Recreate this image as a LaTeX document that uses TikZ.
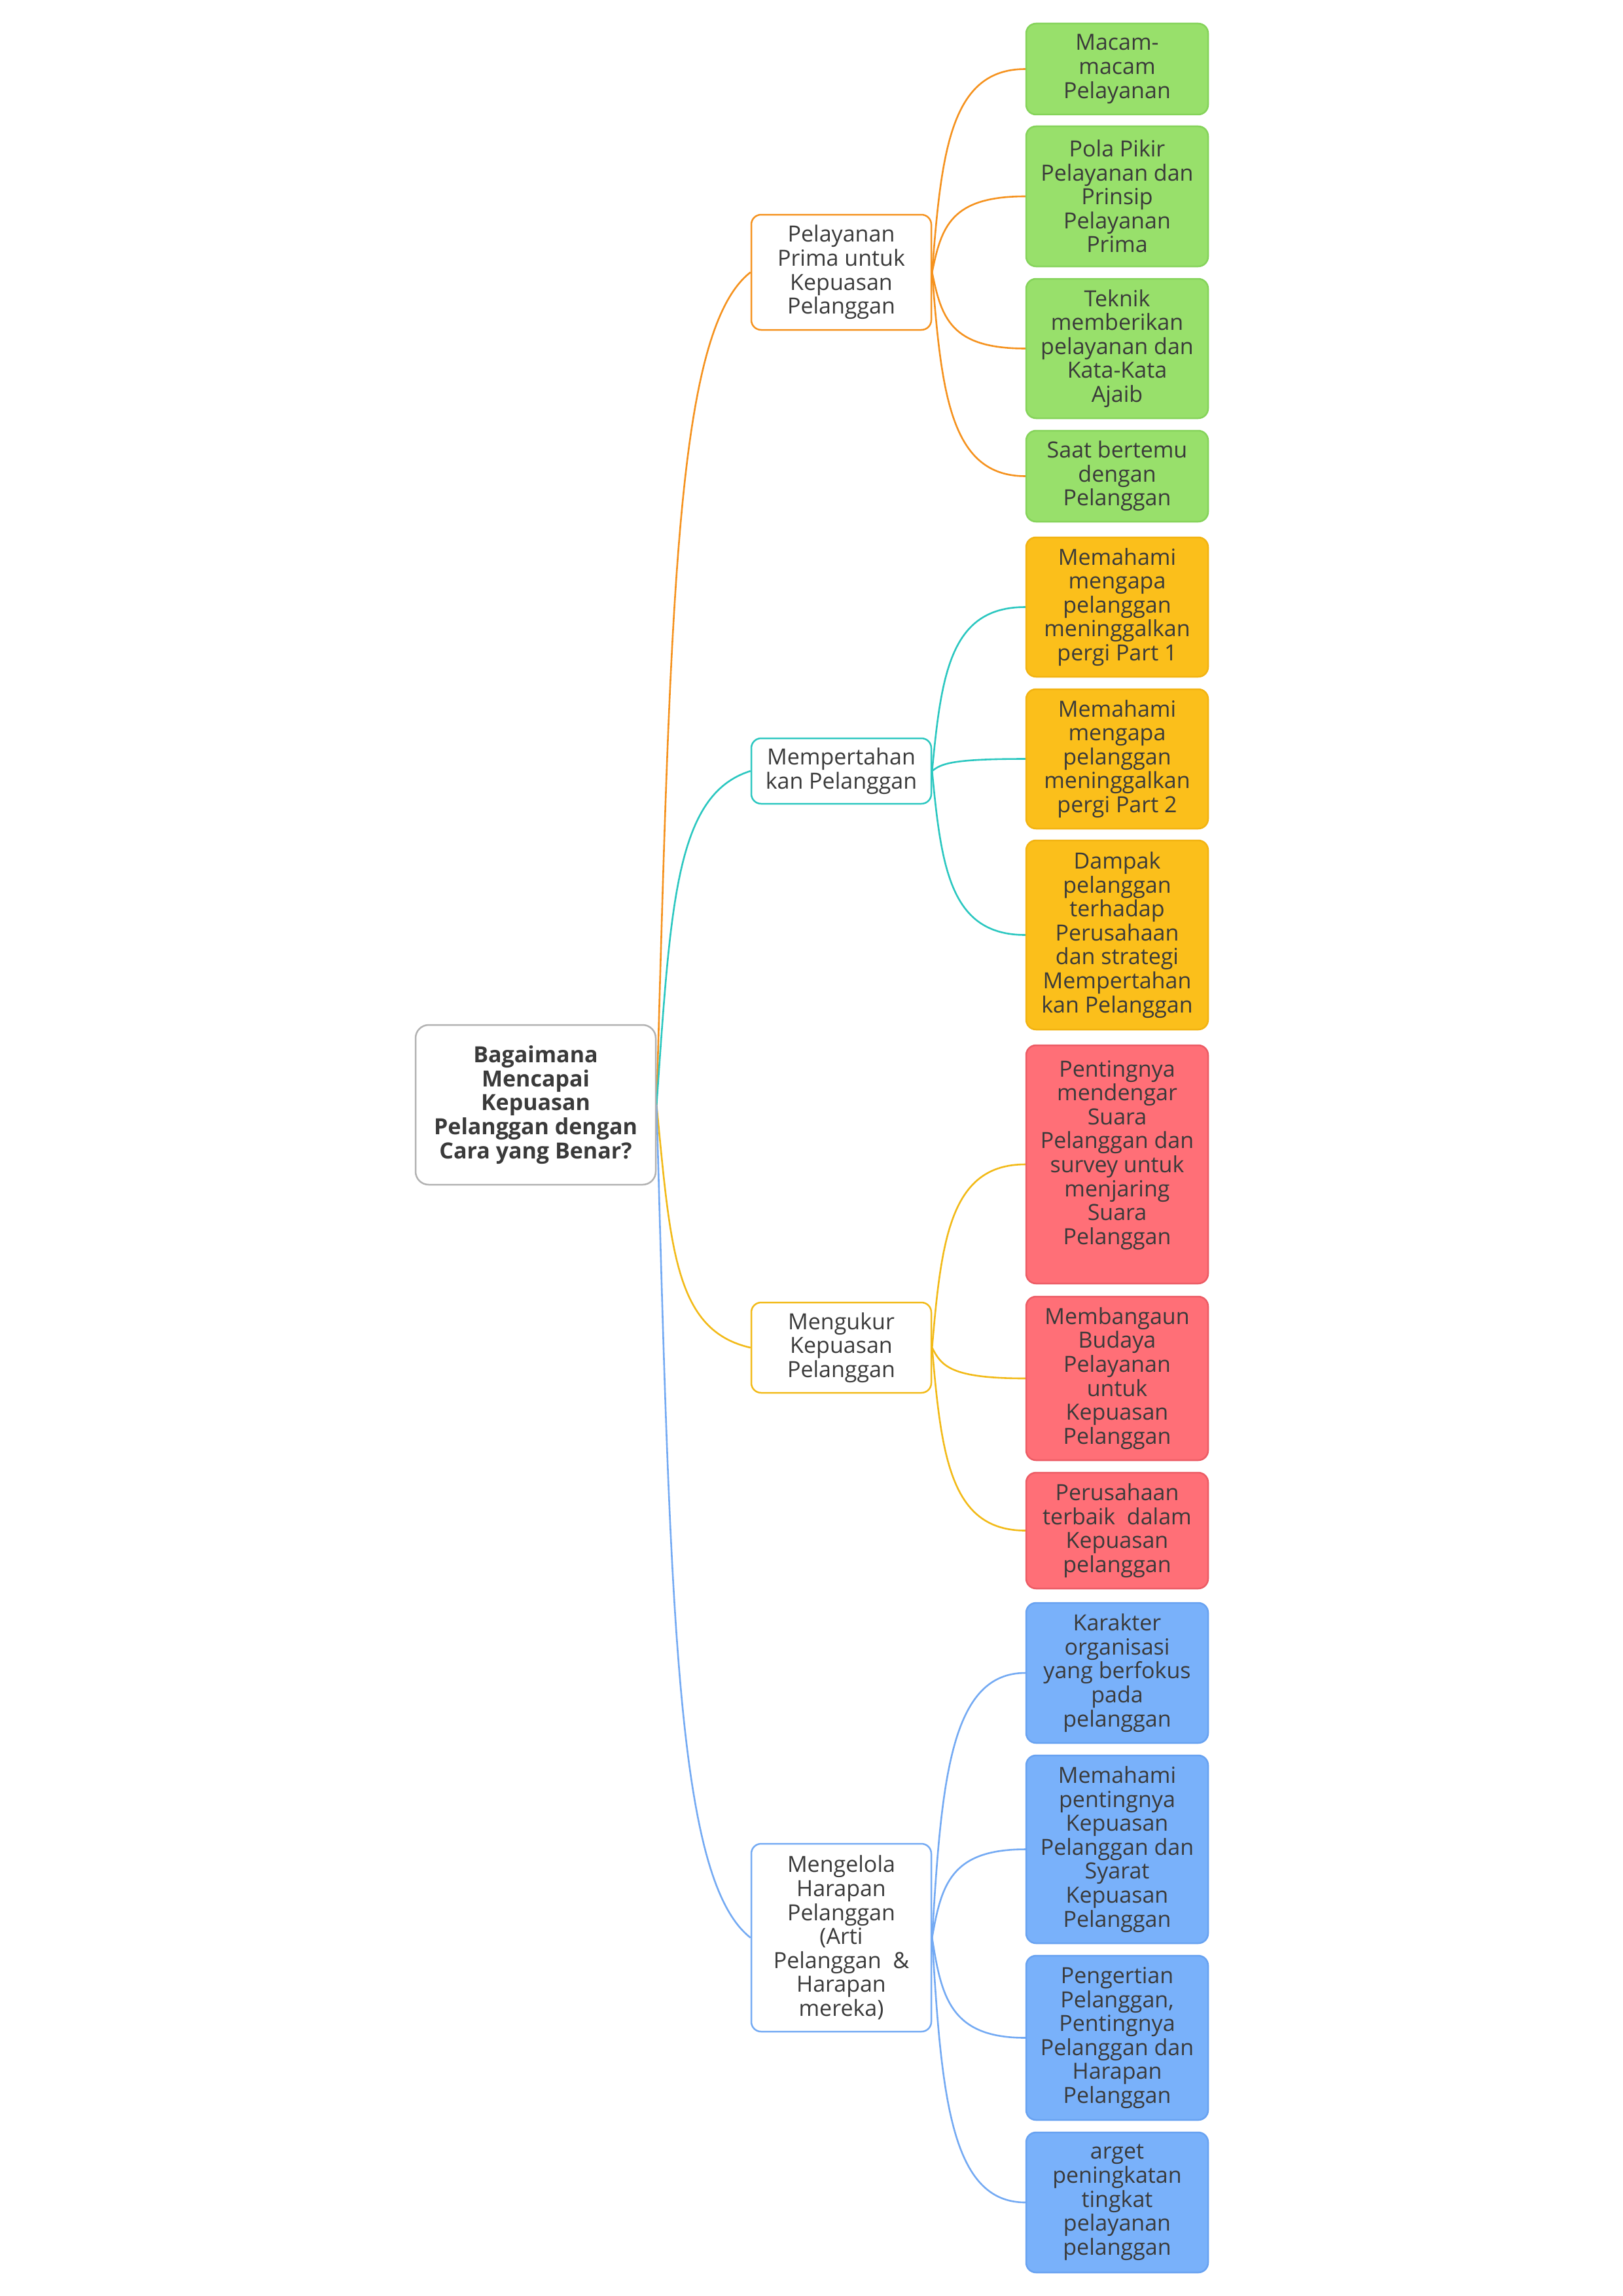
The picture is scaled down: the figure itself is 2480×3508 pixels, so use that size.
\documentclass[tikz,border=0pt]{standalone}
\usepackage{fontspec}
\setmainfont{Open Sans}
\usetikzlibrary{calc,backgrounds}
\definecolor{txt}{HTML}{3A3A3A}
\definecolor{rootgray}{HTML}{B2B2B2}
\definecolor{corange}{HTML}{F5921E}
\definecolor{cteal}{HTML}{2BC7C0}
\definecolor{cyellow}{HTML}{F2BA18}
\definecolor{cblue}{HTML}{74AAF3}
\definecolor{gfill}{HTML}{98E06B}
\definecolor{gdraw}{HTML}{85D35A}
\definecolor{afill}{HTML}{FBBF1B}
\definecolor{adraw}{HTML}{F2B312}
\definecolor{rfill}{HTML}{FF6F77}
\definecolor{rdraw}{HTML}{EC5C65}
\definecolor{bfill}{HTML}{79B1FA}
\definecolor{bdraw}{HTML}{68A2F1}
\tikzset{
  box/.style={rectangle, rounded corners=15pt, align=center, inner sep=0pt,
    text=txt, font=\fontsize{34}{36.6}\selectfont, line width=2.5pt},
  leaf/.style={box, minimum width=278pt},
  topic/.style={box, fill=white, minimum width=275pt},
  green leaf/.style={leaf, fill=gfill, draw=gdraw},
  amber leaf/.style={leaf, fill=afill, draw=adraw},
  red leaf/.style={leaf, fill=rfill, draw=rdraw},
  blue leaf/.style={leaf, fill=bfill, draw=bdraw},
  rootbox/.style={box, draw=rootgray, fill=white, rounded corners=20pt,
    minimum width=367pt, minimum height=244pt,
    font=\fontsize{34}{36.6}\selectfont\bfseries},
  link/.style={line width=2.6pt},
  rootlink/.style={link, to path={let \p1=(\tikztostart), \p2=(\tikztotarget) in
    .. controls ({\x1+0.15*(\x2-\x1)},{\y1+0.6*(\y2-\y1)})
    and ({\x1+0.2*(\x2-\x1)},{\y1+0.93*(\y2-\y1)}) .. (\tikztotarget)}},
  leaflink/.style={link, to path={let \p1=(\tikztostart), \p2=(\tikztotarget) in
    .. controls ({\x1+0.1*(\x2-\x1)},{\y1+0.6*(\y2-\y1)})
    and ({\x1+0.2*(\x2-\x1)},{\y2}) .. (\tikztotarget)}},
}
\begin{document}
\begin{tikzpicture}[x=1pt,y=-1pt]
\useasboundingbox (0,0) rectangle (2480,3508);

% root
\node[rootbox] (root) at (818.5,1688) {Bagaimana\\Mencapai\\Kepuasan\\Pelanggan dengan\\Cara yang Benar?};

% topics
\node[topic, draw=corange, minimum height=176pt] (ta) at (1285.5,416) {Pelayanan\\Prima untuk\\Kepuasan\\Pelanggan};
\node[topic, draw=cteal, minimum height=100pt] (tb) at (1285.5,1178) {Mempertahan\\kan Pelanggan};
\node[topic, draw=cyellow, minimum height=138pt] (tc) at (1285.5,2059) {Mengukur\\Kepuasan\\Pelanggan};
\node[topic, draw=cblue, minimum height=287pt] (td) at (1285.5,2960.5) {Mengelola\\Harapan\\Pelanggan\\(Arti\\Pelanggan\ \ \&\\Harapan\\mereka)};

% leaves
\node[green leaf, minimum height=139pt] (a1) at (1707,105.5) {Macam-\\macam\\Pelayanan};
\node[green leaf, minimum height=214pt] (a2) at (1707,300) {Pola Pikir\\Pelayanan dan\\Prinsip\\Pelayanan\\Prima};
\node[green leaf, minimum height=213pt] (a3) at (1707,532.5) {Teknik\\memberikan\\pelayanan dan\\Kata-Kata\\Ajaib};
\node[green leaf, minimum height=139pt] (a4) at (1707,727.5) {Saat bertemu\\dengan\\Pelanggan};

\node[amber leaf, minimum height=213pt] (b1) at (1707,927.5) {Memahami\\mengapa\\pelanggan\\meninggalkan\\pergi Part 1};
\node[amber leaf, minimum height=213pt] (b2) at (1707,1159.5) {Memahami\\mengapa\\pelanggan\\meninggalkan\\pergi Part 2};
\node[amber leaf, minimum height=289pt] (b3) at (1707,1428.5) {Dampak\\pelanggan\\terhadap\\Perusahaan\\dan strategi\\Mempertahan\\kan Pelanggan};

\node[red leaf, minimum height=364pt] (c1) at (1707,1779) {Pentingnya\\mendengar\\Suara\\Pelanggan dan\\survey untuk\\menjaring\\Suara\\Pelanggan\\\mbox{}};
\node[red leaf, minimum height=250pt] (c2) at (1707,2106) {Membangaun\\Budaya\\Pelayanan\\untuk\\Kepuasan\\Pelanggan};
\node[red leaf, minimum height=177pt] (c3) at (1707,2338.5) {Perusahaan\\terbaik\ \ dalam\\Kepuasan\\pelanggan};

\node[blue leaf, minimum height=214pt] (d1) at (1707,2556) {Karakter\\organisasi\\yang berfokus\\pada\\pelanggan};
\node[blue leaf, minimum height=287pt] (d2) at (1707,2825.5) {Memahami\\pentingnya\\Kepuasan\\Pelanggan dan\\Syarat\\Kepuasan\\Pelanggan};
\node[blue leaf, minimum height=251pt] (d3) at (1707,3113.5) {Pengertian\\Pelanggan,\\Pentingnya\\Pelanggan dan\\Harapan\\Pelanggan};
\node[blue leaf, minimum height=214pt] (d4) at (1707,3365) {arget\\peningkatan\\tingkat\\pelayanan\\pelanggan};

\begin{scope}[on background layer]
  \draw[rootlink, corange] (root.east) to (ta.west);
  \draw[rootlink, cteal] (root.east) to (tb.west);
  \draw[rootlink, cyellow] (root.east) to (tc.west);
  \draw[rootlink, cblue] (root.east) to (td.west);
  \foreach \l in {a1,a2,a3,a4} \draw[leaflink, corange] (ta.east) to (\l.west);
  \foreach \l in {b1,b2,b3} \draw[leaflink, cteal] (tb.east) to (\l.west);
  \foreach \l in {c1,c2,c3} \draw[leaflink, cyellow] (tc.east) to (\l.west);
  \foreach \l in {d1,d2,d3,d4} \draw[leaflink, cblue] (td.east) to (\l.west);
\end{scope}
\end{tikzpicture}
\end{document}
